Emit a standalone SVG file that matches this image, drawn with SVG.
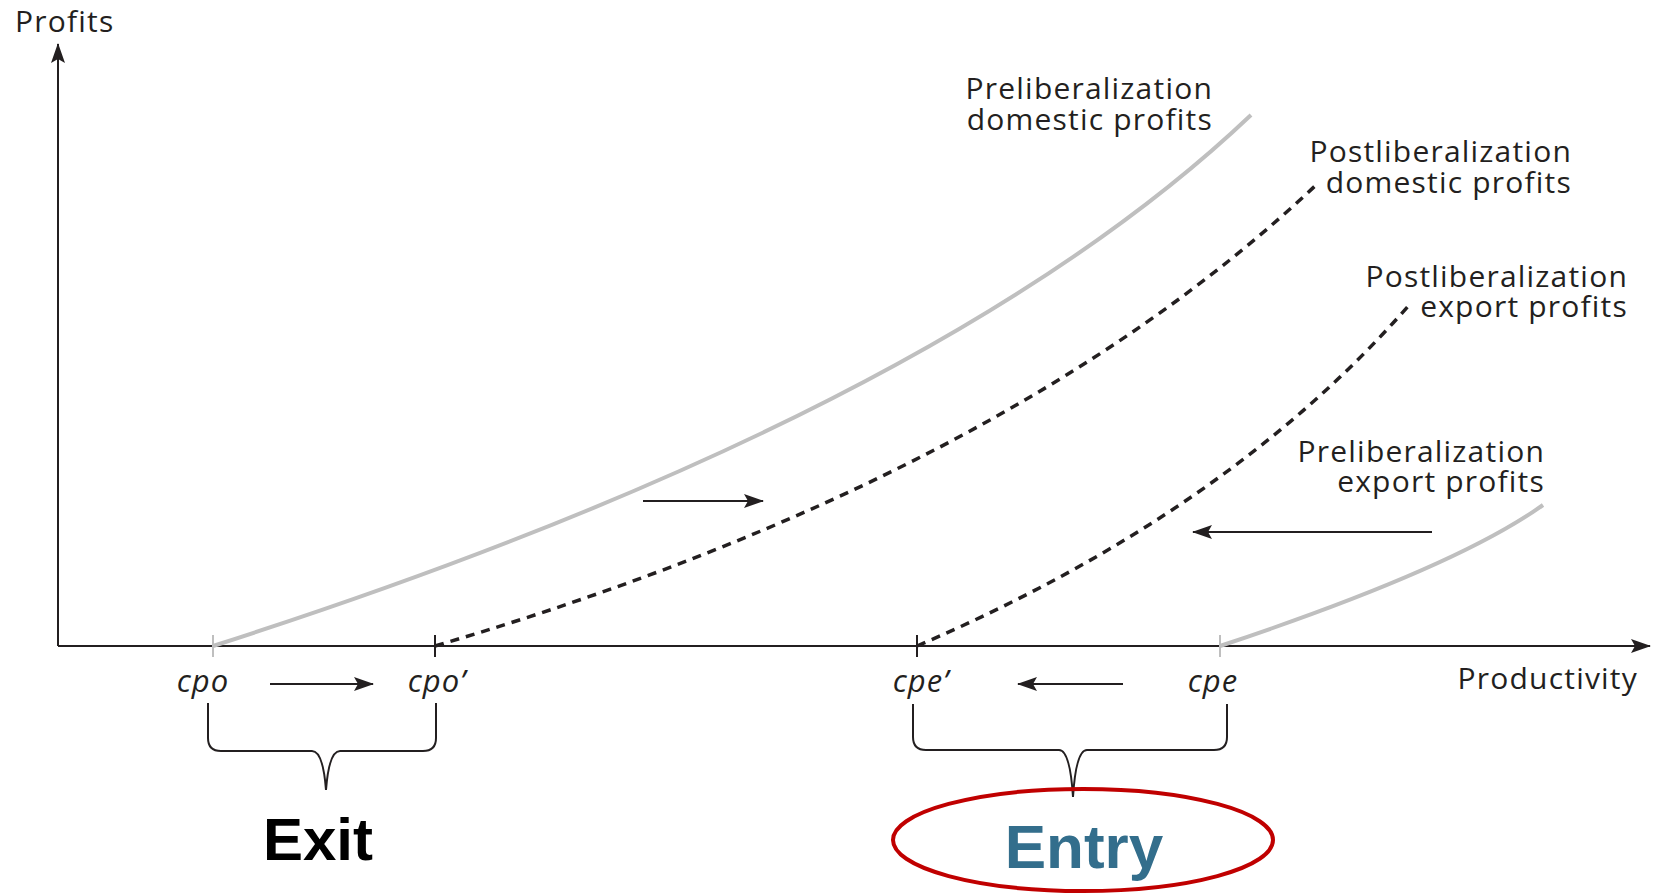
<svg xmlns="http://www.w3.org/2000/svg" width="1656" height="894" viewBox="0 0 1656 894">
<defs>
<marker id="ah" viewBox="0 0 20 14" refX="19" refY="7" markerWidth="20" markerHeight="14" markerUnits="userSpaceOnUse" orient="auto">
<path d="M0,0 L20,7 L0,14 L4,7 z" fill="#231f20"/>
</marker>
<style>
.lbl{font-family:"Open Sans","Liberation Sans",sans-serif;font-size:30px;letter-spacing:1.2px;fill:#231f20}
.it{font-family:"Open Sans","Liberation Sans",sans-serif;font-style:italic;font-size:31px;letter-spacing:1px;fill:#231f20}
.axis{stroke:#231f20;stroke-width:2;fill:none}
.pre{stroke:#bfbfbf;stroke-width:4;fill:none}
.post{stroke:#231f20;stroke-width:3.5;fill:none;stroke-dasharray:9 7}
.arr{stroke:#231f20;stroke-width:2;fill:none;marker-end:url(#ah)}
.brace{stroke:#231f20;stroke-width:2;fill:none}
.tick{stroke-width:2}
</style>
</defs>
<rect width="1656" height="894" fill="#ffffff"/>

<g id="axes">
<line class="axis" x1="58" y1="646" x2="58" y2="44" marker-end="url(#ah)"/>
<line class="axis" x1="58" y1="646" x2="1650" y2="646" marker-end="url(#ah)"/>
<text class="lbl" x="15" y="32">Profits</text>
<text class="lbl" x="1638" y="689" text-anchor="end">Productivity</text>
<line class="tick" x1="213" y1="635" x2="213" y2="657" stroke="#bfbfbf"/>
<line class="tick" x1="435" y1="635" x2="435" y2="657" stroke="#231f20"/>
<line class="tick" x1="917" y1="635" x2="917" y2="657" stroke="#231f20"/>
<line class="tick" x1="1220" y1="635" x2="1220" y2="657" stroke="#bfbfbf"/>
</g>

<g id="curves">
<path id="pre-domestic" class="pre" d="M213,646 Q935,415 1251,115"/>
<path id="post-domestic" class="post" d="M435,646 Q1005,478 1315,186"/>
<path id="post-export" class="post" d="M917,646 Q1229,512 1410,304"/>
<path id="pre-export" class="pre" d="M1220,646 Q1455,568 1543,505"/>
</g>

<g id="labels">
<text class="lbl" x="1213" y="99" text-anchor="end">Preliberalization</text>
<text class="lbl" x="1213" y="130" text-anchor="end">domestic profits</text>
<text class="lbl" x="1572" y="162" text-anchor="end">Postliberalization</text>
<text class="lbl" x="1572" y="193" text-anchor="end">domestic profits</text>
<text class="lbl" x="1628" y="287" text-anchor="end">Postliberalization</text>
<text class="lbl" x="1628" y="317" text-anchor="end">export profits</text>
<text class="lbl" x="1545" y="462" text-anchor="end">Preliberalization</text>
<text class="lbl" x="1545" y="492" text-anchor="end">export profits</text>
</g>

<g id="connectors">
<line class="arr" x1="643" y1="501" x2="763" y2="501"/>
<line class="arr" x1="1432" y1="532" x2="1193" y2="532"/>
<line class="arr" x1="270" y1="684" x2="373" y2="684"/>
<line class="arr" x1="1123" y1="684" x2="1018" y2="684"/>
</g>

<g id="cutoffs">
<text class="it" x="203" y="692" text-anchor="middle">cpo</text>
<text class="it" x="437" y="692" text-anchor="middle">cpo’</text>
<text class="it" x="921" y="692" text-anchor="middle">cpe’</text>
<text class="it" x="1213" y="692" text-anchor="middle">cpe</text>
</g>

<g id="exit">
<path class="brace" d="M208,703 L208,738 Q208,751 221,751 L312,751 Q323,751 326,790 Q329,751 340,751 L423,751 Q436,751 436,738 L436,703"/>
<text x="318" y="860" text-anchor="middle" font-family="'Liberation Sans',Arial,sans-serif" font-weight="bold" font-size="60" fill="#000000">Exit</text>
</g>

<g id="entry">
<path class="brace" d="M913,704 L913,737 Q913,750 926,750 L1059,750 Q1070,750 1073,797 Q1076,750 1087,750 L1214,750 Q1227,750 1227,737 L1227,704"/>
<ellipse cx="1083" cy="840" rx="190" ry="51" fill="none" stroke="#c00000" stroke-width="4"/>
<text x="1084" y="868" text-anchor="middle" font-family="'Liberation Sans',Arial,sans-serif" font-weight="bold" font-size="62" fill="#336e8c">Entry</text>
</g>
</svg>
